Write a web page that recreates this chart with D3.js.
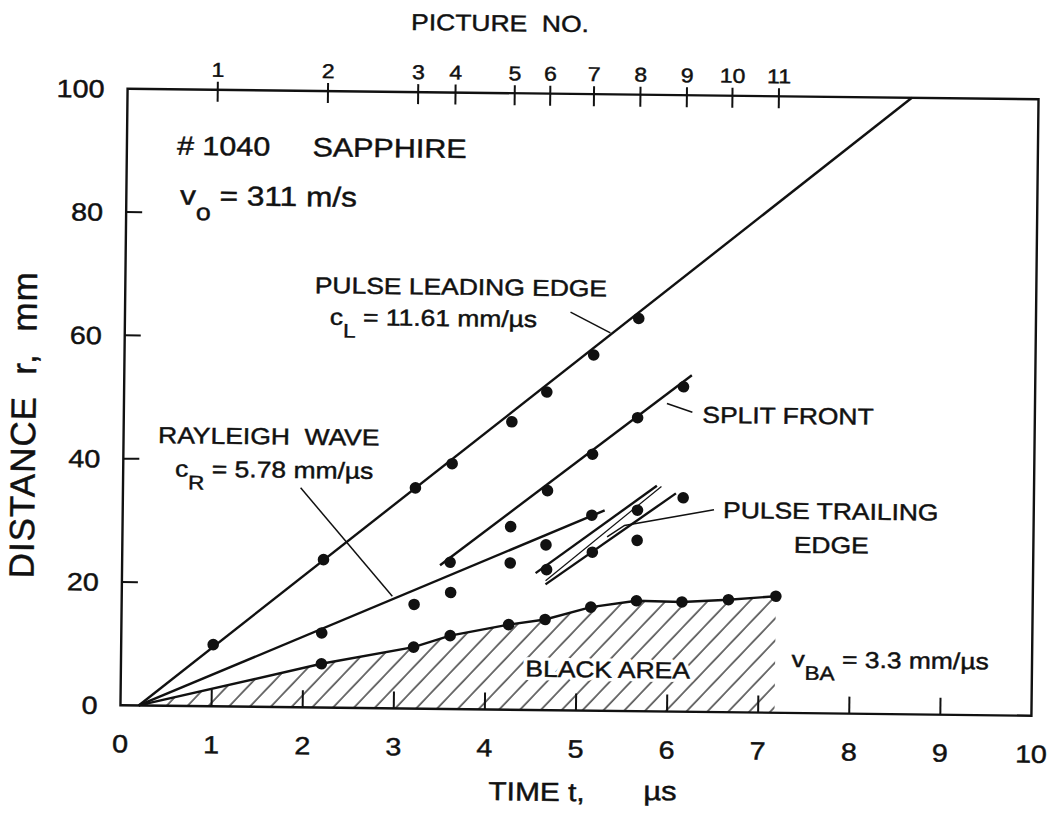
<!DOCTYPE html>
<html><head><meta charset="utf-8">
<script src="https://cdn.jsdelivr.net/npm/d3@7"></script>
<style>
body{margin:0;background:#fff}
svg{display:block}
text{font-family:"Liberation Sans",Arial,Helvetica,sans-serif;fill:#111;stroke:#111;stroke-width:0.45px;white-space:pre}
text.halo{fill:#fff;stroke:#fff;stroke-width:7px;stroke-linejoin:round}
</style>
</head><body>
<svg id="c" width="1055" height="817"></svg>
<script>
// ---------- data ----------
const xTickValues=[0,1,2,3,4,5,6,7,8,9,10];
const yTickValues=[0,20,40,60,80,100];
const pictureNo=[1,2,3,4,5,6,7,8,9,10,11];
const pictureTime=[0.99,2.20,3.19,3.60,4.25,4.64,5.12,5.63,6.14,6.64,7.15];

const leadingT=[1.01,2.21,3.21,3.61,4.26,4.64,5.15,5.64];
const leadingR=[10.0,24.0,35.8,39.8,46.7,51.6,57.7,63.7];
const splitT=[3.60,4.66,5.15,5.64,6.14];
const splitR=[23.8,35.6,41.6,47.6,52.7];
const rayleighT=[2.20,3.21,3.61,4.26,4.26,4.65,5.15];
const rayleighR=[12.1,16.9,18.9,23.8,29.7,26.8,31.7];
const trailingT=[4.66,5.16,5.65,5.65,6.15];
const trailingR=[22.8,25.7,32.6,27.7,34.7];
const blackT=[2.20,3.21,3.61,4.25,4.65,5.15,5.65,6.15,6.66,7.18];
const blackR=[7.1,9.97,11.9,13.8,14.7,16.8,17.9,17.8,18.25,18.9];
const originT=0.2;

// fitted lines (t, r end points)
const leadingLine=[[0.2,0],[8.61,100]];
const rayleighLine=[[0.2,0],[5.29,32.5]];
const splitLine=[[3.49,23.3],[6.23,54.6]];
const trailingThick=[[[4.54,22.2],[5.86,36.6]],[[4.65,20.4],[6.07,35.4]]];
const trailingThin=[[[4.65,21.0],[5.91,36.5]]];
// leader lines
const leaderLeading=[[4.89,64.6],[5.33,61.3]];
const leaderRayleigh=[[1.95,35.6],[2.97,18.2]];
const leaderSplit=[[5.96,49.95],[6.24,48.6]];
const leaderTrailing=[[6.49,32.8],[5.51,30.1],[5.32,28.2]];

// ---------- layout ----------
const SX=1.15;
const svg=d3.select("#c");
const g=svg.append("g").attr("transform","rotate(0.66,579,402)");
const x=d3.scaleLinear().domain([0,10]).range([124,1035]);
const y=d3.scaleLinear().domain([0,100]).range([710.5,94]);
const line=d3.line().x(d=>x(d[0])).y(d=>y(d[1]));
const INK="#111";

// hatch pattern
const defs=svg.append("defs");
const pat=defs.append("pattern").attr("id","hatch").attr("patternUnits","userSpaceOnUse")
  .attr("width",10).attr("height",15.2).attr("patternTransform","rotate(-47)");
pat.append("line").attr("x1",0).attr("x2",10).attr("y1",1).attr("y2",1)
  .attr("stroke",INK).attr("stroke-width",1.2);

// black area polygon
const blackPts=[[originT,0]].concat(blackT.map((t,i)=>[t,blackR[i]]));
const poly=blackPts.concat([[blackT[blackT.length-1],0]]);
g.append("path").attr("d",line(poly)+"Z").attr("fill","url(#hatch)").attr("stroke","none");

// frame
g.append("rect").attr("x",x(0)).attr("y",y(100)).attr("width",x(10)-x(0)).attr("height",y(0)-y(100))
  .attr("fill","none").attr("stroke",INK).attr("stroke-width",2.4);

// bottom ticks (inward)
g.selectAll(".xt").data(xTickValues.filter(d=>d>0&&d<10)).enter().append("line")
  .attr("x1",d=>x(d)).attr("x2",d=>x(d)).attr("y1",y(0)).attr("y2",y(0)-17)
  .attr("stroke",INK).attr("stroke-width",2);
g.selectAll(".xl").data(xTickValues).enter().append("text")
  .attr("transform",d=>`translate(${x(d)},${y(0)+47}) scale(${SX},1)`)
  .attr("text-anchor","middle").style("font-size","25px").text(d=>d);

// left ticks (inward)
g.selectAll(".yt").data(yTickValues.filter(d=>d>0&&d<100)).enter().append("line")
  .attr("x1",x(0)).attr("x2",x(0)+16).attr("y1",d=>y(d)).attr("y2",d=>y(d))
  .attr("stroke",INK).attr("stroke-width",2);
g.selectAll(".yl").data(yTickValues).enter().append("text")
  .attr("transform",d=>`translate(${x(0)-23},${y(d)+9}) scale(${SX},1)`)
  .attr("text-anchor","end").style("font-size","25px").text(d=>d);

// picture number axis (top)
g.selectAll(".pt").data(pictureTime).enter().append("line")
  .attr("x1",d=>x(d)).attr("x2",d=>x(d)).attr("y1",y(100)-8).attr("y2",y(100)+12)
  .attr("stroke",INK).attr("stroke-width",2);
g.selectAll(".pl").data(pictureTime).enter().append("text")
  .attr("transform",d=>`translate(${x(d)},${y(100)-13}) scale(${SX},1)`)
  .attr("text-anchor","middle").style("font-size","20px").text((d,i)=>pictureNo[i]);

// text helper
function addText(t,r,parts,size,anchor,halo){
  const layers=halo?["halo","ink"]:["ink"];
  layers.forEach(cls=>{
    const el=g.append("text").attr("class",cls==="halo"?"halo":null)
      .attr("transform",`translate(${x(t)},${y(r)}) scale(${SX},1)`)
      .style("font-size",size+"px").attr("text-anchor",anchor||"start");
    let shift=0;
    parts.forEach(p=>{
      const s=typeof p==="string"?{s:p}:p;
      const target=s.sub?size*0.55:0;
      const ts=el.append("tspan").attr("dy",target-shift).text(s.s);
      if(s.sub) ts.style("font-size",(size*0.85)+"px");
      shift=target;
    });
  });
}

addText(4.08,110.05,["PICTURE  NO."],23,"middle");

// axis titles
addText(4.05,-14.7,["TIME t,"],26);
addText(5.75,-14.4,["µs"],27);
g.append("text").attr("transform",`translate(${x(-0.97)},${y(45.3)}) rotate(-90)`)
  .attr("text-anchor","middle").style("font-size","35px").style("letter-spacing","1px")
  .text("DISTANCE  r,  mm");

// lines
const thick=2.4, thin=1.2;
[leadingLine,rayleighLine,splitLine].forEach(l=>g.append("path").attr("d",line(l))
  .attr("fill","none").attr("stroke",INK).attr("stroke-width",thick));
g.append("path").attr("d",line(blackPts)).attr("fill","none").attr("stroke",INK).attr("stroke-width",thick);
trailingThick.forEach(l=>g.append("path").attr("d",line(l)).attr("fill","none").attr("stroke",INK).attr("stroke-width",thick));
trailingThin.forEach(l=>g.append("path").attr("d",line(l)).attr("fill","none").attr("stroke",INK).attr("stroke-width",thin));
[leaderLeading,leaderRayleigh,leaderSplit,leaderTrailing].forEach(l=>g.append("path").attr("d",line(l))
  .attr("fill","none").attr("stroke",INK).attr("stroke-width",1.5));

// points
const allPts=[].concat(
  leadingT.map((t,i)=>[t,leadingR[i]]),
  splitT.map((t,i)=>[t,splitR[i]]),
  rayleighT.map((t,i)=>[t,rayleighR[i]]),
  trailingT.map((t,i)=>[t,trailingR[i]]),
  blackT.map((t,i)=>[t,blackR[i]]));
g.selectAll(".pt2").data(allPts).enter().append("circle")
  .attr("cx",d=>x(d[0])).attr("cy",d=>y(d[1])).attr("r",5.8).attr("fill",INK);

// annotations
addText(0.55,89.4,["# 1040     SAPPHIRE"],26.5);
addText(0.59,81.3,["v",{s:"o",sub:true}," = 311 m/s"],27.5);
addText(2.08,67.2,["PULSE LEADING EDGE"],23);
addText(2.25,62.1,["c",{s:"L",sub:true}," = 11.61 mm/µs"],23);
addText(0.38,42.6,["RAYLEIGH  WAVE"],23);
addText(0.57,37.2,["c",{s:"R",sub:true}," = 5.78 mm/µs"],23);
addText(6.35,46.9,["SPLIT FRONT"],23);
addText(6.59,31.5,["PULSE TRAILING"],23);
addText(7.37,26.0,["EDGE"],23);
addText(4.44,5.4,["BLACK AREA"],23,"start",true);
addText(7.36,7.45,["v",{s:"BA",sub:true}," = 3.3 mm/µs"],23);
</script>
</body></html>
